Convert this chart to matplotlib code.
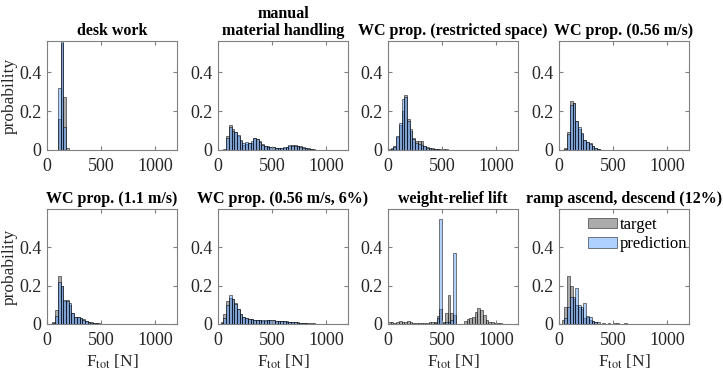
import numpy as np
import matplotlib
matplotlib.use("Agg")
import matplotlib.pyplot as plt

plt.rcParams["font.family"] = ["Liberation Serif", "DejaVu Serif"]
plt.rcParams["mathtext.fontset"] = "stix"
plt.rcParams["font.size"] = 12

# bin width 25 N, bins start at 0
bin_width = 25
n_bins = 48

titles = [
    "desk work",
    "manual\nmaterial handling",
    "WC prop. (restricted space)",
    "WC prop. (0.56 m/s)",
    "WC prop. (1.1 m/s)",
    "WC prop. (0.56 m/s, 6%)",
    "weight-relief lift",
    "ramp ascend, descend (12%)",
]

desk_target = [0, 0, 0, 0, 0.16, 0.55, 0.27, 0.01]
desk_pred = [0, 0, 0, 0, 0.32, 0.56, 0.12]

mmh_target = [0, 0, 0.004, 0.07, 0.13, 0.11, 0.09, 0.07, 0.045, 0.025,
              0.03, 0.037, 0.035, 0.063, 0.058, 0.045, 0.03, 0.022, 0.018, 0.015,
              0.013, 0.012, 0.012, 0.01, 0.012, 0.015, 0.022, 0.027, 0.025, 0.02,
              0.018, 0.015, 0.012, 0.008, 0.005, 0.003, 0.002, 0.001]
mmh_pred = [0, 0, 0.002, 0.06, 0.12, 0.10, 0.09, 0.075, 0.05, 0.035,
            0.04, 0.035, 0.045, 0.06, 0.055, 0.042, 0.028, 0.02, 0.016, 0.014,
            0.013, 0.011, 0.012, 0.011, 0.013, 0.017, 0.025, 0.022, 0.02, 0.018,
            0.015, 0.012, 0.008, 0.005, 0.003, 0.002]

rs_target = [0.005, 0.012, 0.02, 0.065, 0.13, 0.20, 0.28, 0.16, 0.10, 0.06,
             0.045, 0.046, 0.046, 0.02, 0.014, 0.012, 0.008, 0.006, 0.005, 0.004,
             0.003, 0.003, 0.002, 0.002, 0.002, 0.002, 0.001, 0.001, 0.001, 0.001]
rs_pred = [0, 0.005, 0.015, 0.07, 0.14, 0.26, 0.27, 0.15, 0.11, 0.055,
           0.035, 0.03, 0.028, 0.018, 0.012, 0.01, 0.007, 0.005, 0.003, 0.002]

p056_target = [0, 0, 0.01, 0.09, 0.25, 0.24, 0.15, 0.11, 0.08, 0.05,
               0.043, 0.035, 0.02, 0.01, 0.005, 0.002, 0.001]
p056_pred = [0, 0, 0.005, 0.08, 0.23, 0.24, 0.15, 0.12, 0.085, 0.05,
             0.04, 0.03, 0.018, 0.008, 0.003]

p11_target = [0, 0, 0.01, 0.073, 0.25, 0.20, 0.12, 0.125, 0.10, 0.06,
              0.038, 0.038, 0.03, 0.025, 0.017, 0.012, 0.009, 0.006, 0.005, 0.004,
              0.002, 0.002, 0.002, 0.002]
p11_pred = [0, 0, 0.005, 0.04, 0.22, 0.20, 0.125, 0.12, 0.107, 0.06,
            0.035, 0.035, 0.03, 0.022, 0.015, 0.01, 0.007, 0.005, 0.003, 0.002]

p6_target = [0, 0.01, 0.05, 0.12, 0.135, 0.133, 0.107, 0.078, 0.052, 0.038,
             0.033, 0.028, 0.024, 0.022, 0.02, 0.019, 0.018, 0.018, 0.02, 0.02,
             0.019, 0.018, 0.017, 0.018, 0.016, 0.015, 0.013, 0.011, 0.009, 0.008,
             0.006, 0.005, 0.004, 0.004, 0.003, 0.003, 0.002, 0.002, 0.002, 0.001]
p6_pred = [0, 0.005, 0.03, 0.10, 0.15, 0.13, 0.105, 0.08, 0.05, 0.035,
           0.03, 0.027, 0.024, 0.022, 0.02, 0.02, 0.019, 0.02, 0.021, 0.02,
           0.02, 0.018, 0.016, 0.017, 0.015, 0.013, 0.012, 0.01, 0.008, 0.006,
           0.005, 0.004, 0.003, 0.002, 0.002, 0.001]

wr_target = [0.012, 0.008, 0.005, 0.012, 0.015, 0.008, 0.013, 0.015, 0.008, 0.005,
             0.006, 0.004, 0.006, 0.003, 0.005, 0.01, 0.01, 0.012, 0.04, 0.078,
             0.01, 0.055, 0.15, 0.055, 0.047, 0, 0, 0, 0.015, 0.025,
             0.03, 0.035, 0.065, 0.085, 0.075, 0.045, 0.02, 0.01, 0.012, 0.005,
             0.003, 0.003]
wr_pred = [0, 0, 0, 0, 0, 0, 0, 0, 0, 0,
           0, 0, 0, 0, 0, 0, 0, 0.005, 0.03, 0.546,
           0.005, 0.01, 0.01, 0.02, 0.37]

ramp_target = [0, 0.02, 0.09, 0.25, 0.20, 0.13, 0.10, 0.09, 0.08, 0.03,
               0.035, 0.02, 0.015, 0.01, 0.008, 0, 0.005, 0, 0.005, 0,
               0.005, 0.005, 0, 0, 0.006]
ramp_pred = [0, 0, 0.03, 0.09, 0.14, 0.14, 0.19, 0.10, 0.09, 0.11,
             0.04, 0.035, 0.015, 0.01]

targets = [desk_target, mmh_target, rs_target, p056_target,
           p11_target, p6_target, wr_target, ramp_target]
preds = [desk_pred, mmh_pred, rs_pred, p056_pred,
         p11_pred, p6_pred, wr_pred, ramp_pred]


def padded(vals):
    out = np.zeros(n_bins)
    out[:len(vals)] = vals
    return out


edges = np.arange(n_bins) * bin_width

fig = plt.figure(figsize=(7.23, 3.78), dpi=100)
W, H = 723, 378
lefts = [47, 218, 388, 559]
rows = [(41, 150, 0.56), (209, 324, 0.6)]

for i in range(8):
    r, c = divmod(i, 4)
    top, bottom, ymax = rows[r]
    ax = fig.add_axes([lefts[c] / W, 1 - bottom / H, 130 / W, (bottom - top) / H])
    ax.bar(edges, padded(targets[i]), width=bin_width, align="edge",
           color=(0.45, 0.45, 0.45, 0.6), edgecolor=(0, 0, 0, 0.7), linewidth=0.5,
           label="target")
    ax.bar(edges, padded(preds[i]), width=bin_width, align="edge",
           color=(0.3, 0.6, 1.0, 0.45), edgecolor=(0, 0, 0, 0.7), linewidth=0.5,
           label="prediction")
    ax.set_xlim(0, 1200)
    ax.set_ylim(0, ymax)
    ax.set_xticks([0, 500, 1000])
    ax.set_yticks([0, 0.2, 0.4])
    ax.set_yticklabels(["0", "0.2", "0.4"])
    ax.tick_params(direction="in", top=True, right=True, length=3,
                   color="#808080", labelcolor="#262626", labelsize=13)
    ax.tick_params(axis="x", pad=6)
    ax.tick_params(axis="y", pad=4)
    for s in ax.spines.values():
        s.set_color("#808080")
        s.set_linewidth(0.8)
    ax.set_title(titles[i], fontweight="bold", fontsize=11.5, pad=4, linespacing=1.1)
    if c == 0:
        ax.set_ylabel("probability", color="#262626", labelpad=1, fontsize=12.5)
    if r == 1:
        ax.set_xlabel(r"F$_{\mathrm{tot}}$ [N]", color="#262626", labelpad=2, fontsize=12.5)
    if i == 7:
        ax.legend(loc="upper left", bbox_to_anchor=(0.22, 0.93), frameon=False,
                  borderpad=0, borderaxespad=0, handlelength=1.75,
                  handleheight=0.55, handletextpad=0.2, labelspacing=0.2,
                  fontsize=12)

fig.savefig("out.png", dpi=100)
